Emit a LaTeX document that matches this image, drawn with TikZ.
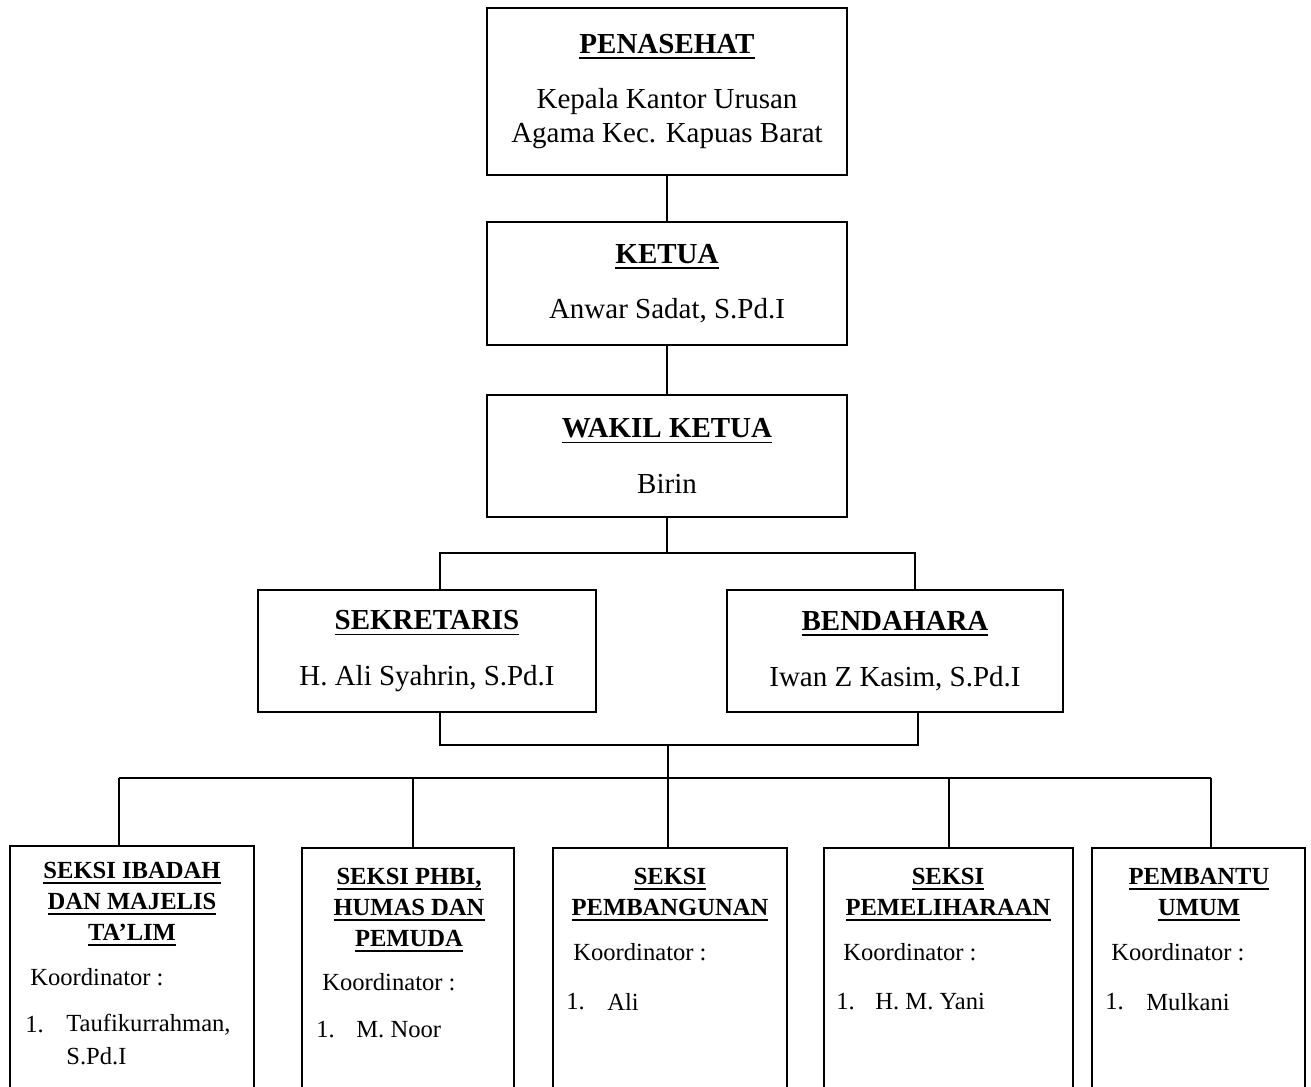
\documentclass[tikz,border=0pt]{standalone}
\usepackage{fontspec}
\setmainfont{Liberation Serif}
\usetikzlibrary{positioning}

% garis bawah tebal untuk judul
\newcommand\garis[1]{\setbox0\hbox{#1}\rlap{\rule[-3.2pt]{\wd0}{1.1pt}}\box0}

\begin{document}
\begin{tikzpicture}[x=0.02cm, y=-0.02cm,
    box/.style = {draw, rectangle, line width=1.3pt},
    atas/.style = {box, align=center, font=\fontsize{16.5}{19.5}\selectfont},
    bawah/.style = {box, anchor=north, minimum height=6cm},
    judul/.style = {align=center, font=\bfseries\fontsize{14}{17.6}\selectfont},
    isi/.style = {anchor=west, inner sep=0pt, font=\fontsize{14}{17.6}\selectfont},
    garis/.style = {line width=1pt}]
    \clip (0,0) rectangle (1311,1086);

    \node[atas, minimum width=7.2cm, minimum height=3.34cm] (pen) at (667,91.5)
        {\textbf{\garis{PENASEHAT}}\\[12pt] Kepala Kantor Urusan\\ Agama Kec. Kapuas Barat};
    \node[atas, minimum width=7.2cm, minimum height=2.46cm] (ket) at (667,283.5)
        {\textbf{\garis{KETUA}}\\[12pt] Anwar Sadat, S.Pd.I};
    \node[atas, minimum width=7.2cm, minimum height=2.44cm] (wak) at (667,456)
        {\textbf{\garis{WAKIL KETUA}}\\[12pt] Birin};
    \node[atas, minimum width=6.76cm, minimum height=2.44cm] (sek) at (427,651)
        {\textbf{\garis{SEKRETARIS}}\\[12pt] H. Ali Syahrin, S.Pd.I};
    \node[atas, minimum width=6.72cm, minimum height=2.44cm] (ben) at (895,651)
        {\textbf{\garis{BENDAHARA}}\\[12pt] Iwan Z Kasim, S.Pd.I};

    % seksi-seksi
    \node[bawah, minimum width=4.88cm] (s1) at (132,845) {};
    \node[bawah, minimum width=4.24cm] (s2) at (408,847) {};
    \node[bawah, minimum width=4.68cm] (s3) at (670,847) {};
    \node[bawah, minimum width=4.98cm] (s4) at (948.5,847) {};
    \node[bawah, minimum width=4.26cm] (s5) at (1198.5,847) {};

    \node[judul, anchor=north] (s1j) at (132,856) {\garis{SEKSI IBADAH}\\ \garis{DAN MAJELIS}\\ \garis{TA’LIM}};
    \node[judul, anchor=north] (s2j) at (409,862) {\garis{SEKSI PHBI,}\\ \garis{HUMAS DAN}\\ \garis{PEMUDA}};
    \node[judul, anchor=north] (s3j) at (670,862) {\garis{SEKSI}\\ \garis{PEMBANGUNAN}};
    \node[judul, anchor=north] (s4j) at (948,862) {\garis{SEKSI}\\ \garis{PEMELIHARAAN}};
    \node[judul, anchor=north] (s5j) at (1199,862) {\garis{PEMBANTU}\\ \garis{UMUM}};

    \node[isi] (s1k) at (30,977) {Koordinator :};
    \node[isi] (s1n) at (25,1025) {1.};
    \node[isi] (s1a) at (66,1025) {Taufikurrahman,};
    \node[isi] (s1b) at (66,1056) {S.Pd.I};
    \node[isi] (s2k) at (322,982) {Koordinator :};
    \node[isi] (s2n) at (316,1030) {1.};
    \node[isi] (s2a) at (356,1030) {M. Noor};
    \node[isi] (s3k) at (573,952) {Koordinator :};
    \node[isi] (s3n) at (566,1002) {1.};
    \node[isi] (s3a) at (607,1002) {Ali};
    \node[isi] (s4k) at (843,952) {Koordinator :};
    \node[isi] (s4n) at (836,1002) {1.};
    \node[isi] (s4a) at (875,1002) {H. M. Yani};
    \node[isi] (s5k) at (1111,952) {Koordinator :};
    \node[isi] (s5n) at (1105,1002) {1.};
    \node[isi] (s5a) at (1146,1002) {Mulkani};

    % garis penghubung
    \coordinate (c1) at (667,553);
    \coordinate (c1a) at (440,553);
    \coordinate (c1b) at (915,553);
    \coordinate (c2) at (668,745);
    \coordinate (c2a) at (440,745);
    \coordinate (c2b) at (918,745);
    \coordinate (c3) at (668,778);
    \coordinate (b1) at (119,778);
    \coordinate (b2) at (413,778);
    \coordinate (b3) at (668,778);
    \coordinate (b4) at (949,778);
    \coordinate (b5) at (1211,778);

    \draw[garis] (pen) -- (ket);
    \draw[garis] (ket) -- (wak);
    \draw[garis] (wak) -- (c1);
    \draw[garis] (sek.north -| c1a) -- (c1a) -- (c1b) -- (ben.north -| c1b);
    \draw[garis] (sek.south -| c2a) -- (c2a) -- (c2b) -- (ben.south -| c2b);
    \draw[garis] (c2) -- (c3);
    \draw[garis] (b1) -- (b5);
    \foreach \i in {1,...,5}
        \draw[garis] (b\i) -- (b\i |- s\i.north);
\end{tikzpicture}
\end{document}
